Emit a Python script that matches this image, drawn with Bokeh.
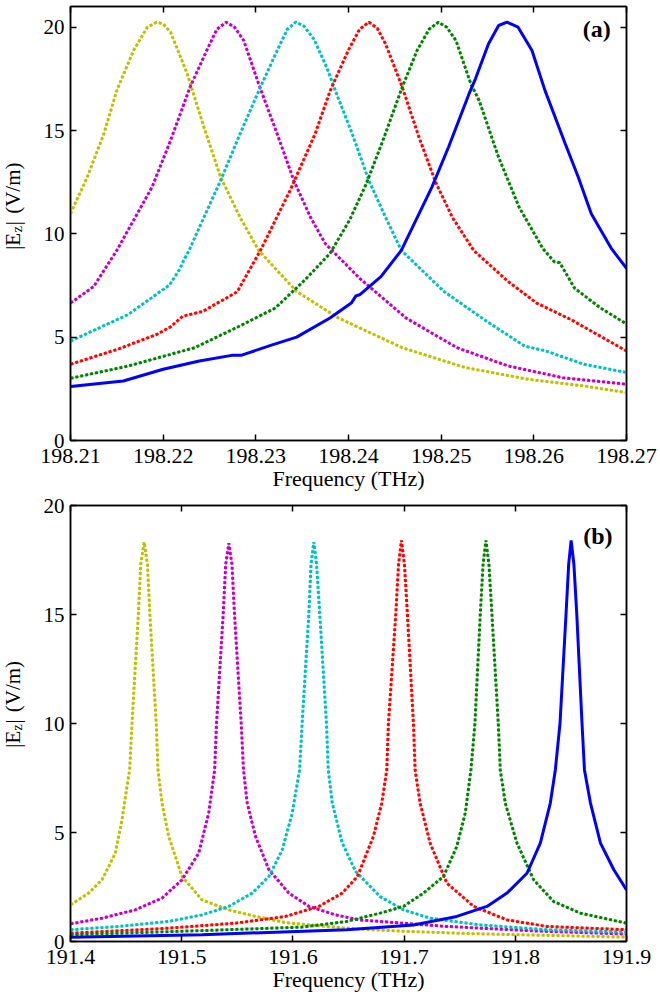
from math import pi

from bokeh.plotting import figure
from bokeh.layouts import column, row
from bokeh.models import (LinearAxis, FixedTicker, PrintfTickFormatter,
                          CustomJSTickFormatter, Label, Range1d)
from bokeh.core.properties import value
from bokeh.embed import file_html
from bokeh.resources import INLINE

# ---- panel (a): 198.21 - 198.27 THz ----
fa_yel = [198.2100, 198.2118, 198.2136, 198.2150, 198.2168, 198.2183, 198.2193, 198.2200, 198.2208, 198.2226,
          198.2244, 198.2262, 198.2283, 198.2303, 198.2344, 198.2389, 198.2458, 198.2526, 198.2594, 198.2654,
          198.2700]
ea_yel = [10.97, 12.74, 14.84, 16.94, 18.87, 20.00, 20.24, 20.15, 19.76, 17.74,
          15.16, 12.74, 10.80, 9.20, 7.21, 5.93, 4.49, 3.53, 2.96, 2.64,
          2.32]

fa_mag = [198.2100, 198.2125, 198.2150, 198.2168, 198.2188, 198.2208, 198.2229, 198.2247, 198.2258, 198.2268,
          198.2277, 198.2287, 198.2303, 198.2323, 198.2341, 198.2359, 198.2375, 198.2412, 198.2462, 198.2517,
          198.2572, 198.2631, 198.2700]
ea_mag = [6.65, 7.45, 9.20, 10.65, 12.26, 14.52, 17.10, 18.87, 19.90, 20.24,
          20.00, 19.35, 17.26, 14.84, 12.58, 10.80, 9.52, 7.85, 5.93, 4.49,
          3.61, 3.04, 2.72]

fa_cya = [198.2100, 198.2162, 198.2207, 198.2218, 198.2222, 198.2228, 198.2244, 198.2262, 198.2283, 198.2305,
          198.2323, 198.2334, 198.2343, 198.2352, 198.2363, 198.2377, 198.2386, 198.2404, 198.2422, 198.2440,
          198.2457, 198.2503, 198.2549, 198.2590, 198.2613, 198.2654, 198.2700]
ea_cya = [4.81, 6.09, 7.53, 8.30, 8.70, 9.20, 10.80, 12.58, 14.84, 17.10,
          18.87, 19.90, 20.24, 20.05, 19.40, 18.00, 16.90, 14.84, 12.58, 10.80,
          9.20, 7.21, 5.77, 4.57, 4.33, 3.69, 3.29]

fa_red = [198.2100, 198.2150, 198.2193, 198.2208, 198.2221, 198.2243, 198.2280, 198.2305, 198.2337, 198.2364,
          198.2380, 198.2400, 198.2412, 198.2422, 198.2431, 198.2440, 198.2458, 198.2476, 198.2494, 198.2512,
          198.2535, 198.2572, 198.2603, 198.2640, 198.2700]
ea_red = [3.69, 4.40, 5.13, 5.50, 6.01, 6.25, 7.20, 9.20, 12.10, 14.84,
          16.90, 18.90, 19.90, 20.24, 19.95, 19.19, 17.10, 14.68, 12.50, 10.80,
          9.20, 7.70, 6.65, 5.85, 4.33]

fa_grn = [198.2100, 198.2162, 198.2234, 198.2280, 198.2321, 198.2353, 198.2380, 198.2401, 198.2419, 198.2437,
          198.2458, 198.2474, 198.2487, 198.2497, 198.2506, 198.2516, 198.2532, 198.2541, 198.2562, 198.2584,
          198.2610, 198.2622, 198.2628, 198.2644, 198.2672, 198.2700]
ea_grn = [3.01, 3.60, 4.49, 5.48, 6.41, 7.77, 9.05, 10.65, 12.40, 14.50,
          17.10, 18.87, 19.90, 20.24, 20.00, 19.35, 17.26, 16.45, 13.70, 11.30,
          9.27, 8.65, 8.60, 7.37, 6.41, 5.64]

fa_blu = [198.2100, 198.2157, 198.2200, 198.2239, 198.2274, 198.2284, 198.2316, 198.2344, 198.2380, 198.2403,
          198.2408, 198.2412, 198.2435, 198.2457, 198.2490, 198.2508, 198.2530, 198.2537, 198.2551, 198.2562,
          198.2571, 198.2583, 198.2598, 198.2612, 198.2634, 198.2648, 198.2662, 198.2684, 198.2700]
ea_blu = [2.61, 2.88, 3.45, 3.85, 4.12, 4.12, 4.60, 5.00, 5.93, 6.65,
          7.00, 7.05, 7.93, 9.20, 12.26, 14.20, 16.77, 17.50, 19.19, 20.08,
          20.24, 20.00, 18.87, 16.94, 14.35, 12.74, 10.97, 9.27, 8.33]

# ---- panel (b): 191.4 - 191.9 THz ----
fb_yel = [191.4000, 191.4163, 191.4283, 191.4403, 191.4463, 191.4508, 191.4532, 191.4553, 191.4610, 191.4632,
          191.4662, 191.4692, 191.4714, 191.4771, 191.4787, 191.4823, 191.4883, 191.5003, 191.5183, 191.5423,
          191.5664, 191.5934, 191.6234, 191.6595, 191.7000, 191.7600, 191.8300, 191.9000]
eb_yel = [1.68, 2.22, 2.83, 4.05, 5.58, 7.11, 7.87, 10.00, 15.00, 17.30,
          18.32, 17.30, 15.00, 10.00, 7.87, 6.35, 4.82, 2.98, 1.91, 1.45,
          1.15, 0.87, 0.72, 0.57, 0.47, 0.36, 0.28, 0.20]

fb_mag = [191.4000, 191.4283, 191.4583, 191.4823, 191.5003, 191.5153, 191.5243, 191.5296, 191.5313, 191.5373,
          191.5396, 191.5424, 191.5452, 191.5475, 191.5535, 191.5556, 191.5589, 191.5664, 191.5784, 191.5964,
          191.6144, 191.6384, 191.6595, 191.7384, 191.8200, 191.9000]
eb_mag = [0.81, 1.07, 1.45, 1.99, 2.83, 4.05, 5.89, 7.87, 10.00, 15.00,
          17.30, 18.27, 17.30, 15.00, 10.00, 7.87, 6.35, 4.82, 3.29, 2.22,
          1.61, 1.22, 0.99, 0.69, 0.48, 0.34]

fb_cya = [191.4000, 191.4432, 191.4883, 191.5183, 191.5423, 191.5634, 191.5784, 191.5904, 191.5994, 191.6060,
          191.6083, 191.6143, 191.6163, 191.6188, 191.6213, 191.6242, 191.6302, 191.6318, 191.6354, 191.6444,
          191.6565, 191.6784, 191.6994, 191.7234, 191.7685, 191.8285, 191.9000]
eb_cya = [0.54, 0.69, 0.92, 1.22, 1.61, 2.22, 2.98, 4.20, 5.89, 7.87,
          10.00, 15.00, 17.30, 18.32, 17.30, 15.00, 10.00, 7.87, 6.35, 4.51,
          3.21, 2.06, 1.45, 1.07, 0.76, 0.54, 0.43]

fb_red = [191.4000, 191.4883, 191.5483, 191.5934, 191.6234, 191.6444, 191.6580, 191.6724, 191.6799, 191.6844,
          191.6859, 191.6925, 191.6950, 191.6976, 191.7003, 191.7030, 191.7084, 191.7099, 191.7144, 191.7234,
          191.7384, 191.7625, 191.7925, 191.8285, 191.9000]
eb_red = [0.38, 0.61, 0.84, 1.15, 1.61, 2.22, 2.98, 4.82, 6.35, 7.87,
          10.00, 15.00, 17.30, 18.40, 17.30, 15.00, 10.00, 7.87, 6.35, 4.51,
          2.68, 1.61, 0.99, 0.69, 0.54]

fb_grn = [191.4000, 191.5183, 191.6084, 191.6483, 191.6784, 191.6994, 191.7174, 191.7354, 191.7474, 191.7550,
          191.7601, 191.7637, 191.7685, 191.7710, 191.7736, 191.7763, 191.7790, 191.7847, 191.7865, 191.7910,
          191.8015, 191.8165, 191.8345, 191.8586, 191.9000]
eb_grn = [0.31, 0.50, 0.66, 0.92, 1.30, 1.61, 2.22, 2.98, 4.36, 5.89,
          7.87, 10.00, 15.00, 17.30, 18.40, 17.30, 15.00, 10.00, 7.87, 6.35,
          4.51, 2.83, 1.83, 1.30, 0.84]

fb_blu = [191.4000, 191.5183, 191.6483, 191.7084, 191.7474, 191.7745, 191.7925, 191.8105, 191.8225, 191.8315,
          191.8360, 191.8402, 191.8456, 191.8480, 191.8502, 191.8527, 191.8553, 191.8600, 191.8622, 191.8676,
          191.8766, 191.8886, 191.9000]
eb_blu = [0.20, 0.31, 0.54, 0.76, 1.15, 1.61, 2.22, 3.13, 4.51, 6.35,
          7.87, 10.00, 15.00, 17.30, 18.40, 17.30, 15.00, 10.00, 7.87, 6.35,
          4.51, 3.29, 2.37]

xticks_a = [198.21, 198.22, 198.23, 198.24, 198.25, 198.26, 198.27]
xticks_b = [191.4, 191.5, 191.6, 191.7, 191.8, 191.9]
yticks = [0, 5, 10, 15, 20]

YEL, MAG, CYA, RED, GRN, BLU = "#bfbf00", "#bf00bf", "#00bfbf", "#ff0000", "#007f00", "#0000ff"
FONT = "Liberation Serif"
LAB_W = 36  # width of the strip that carries the y label


def style_axis(ax):
    ax.major_tick_in = 6
    ax.major_tick_out = 0
    ax.minor_tick_in = 0
    ax.minor_tick_out = 0
    ax.axis_line_width = 1.5
    ax.axis_line_color = "black"
    ax.major_tick_line_width = 1.5
    ax.major_tick_line_color = "black"
    ax.major_label_text_font = FONT
    ax.major_label_text_font_size = "22px"
    ax.major_label_text_color = "black"
    ax.axis_label_text_font = FONT
    ax.axis_label_text_font_size = "22px"
    ax.axis_label_text_font_style = "normal"
    ax.axis_label_text_color = "black"


def make_panel(xr, yr, xticks, fmt, frame_h, top, bottom, series, tag, tag_x, tag_y, ylab_y):
    p = figure(x_range=Range1d(*xr), y_range=Range1d(*yr),
               frame_width=556, frame_height=frame_h,
               min_border_left=70 - LAB_W, min_border_right=34,
               min_border_top=top, min_border_bottom=bottom,
               toolbar_location=None, output_backend="svg",
               x_axis_label="Frequency (THz)")
    p.grid.visible = False
    p.outline_line_color = "black"
    p.outline_line_width = 1.5

    p.xaxis.ticker = FixedTicker(ticks=xticks)
    p.xaxis.formatter = PrintfTickFormatter(format=fmt)
    p.yaxis.ticker = FixedTicker(ticks=yticks)
    p.yaxis.formatter = PrintfTickFormatter(format="%d")
    for ax in p.axis:
        style_axis(ax)
    p.yaxis.major_label_text_font_size = "21px"
    p.xaxis.major_label_standoff = 8
    p.xaxis.axis_label_standoff = 0
    p.yaxis.major_label_standoff = 6

    # box-style ticks on top and right
    for side, ticks in (("above", xticks), ("right", yticks)):
        ax = LinearAxis(ticker=FixedTicker(ticks=ticks),
                        formatter=CustomJSTickFormatter(code="return ''"))
        style_axis(ax)
        ax.major_label_text_font_size = "0px"
        ax.major_label_standoff = 0
        p.add_layout(ax, side)

    for fx, ey, col, dotted in series:
        if dotted:
            p.line(fx, ey, line_color=col, line_width=1, line_alpha=0.35)
            p.line(fx, ey, line_color=col, line_width=3, line_dash="3 2")
        else:
            p.line(fx, ey, line_color=col, line_width=3)

    p.add_layout(Label(x=tag_x, y=tag_y, text=tag, text_font=FONT, text_font_size="24px",
                       text_font_style="bold", text_color="black",
                       text_align="right", text_baseline="alphabetic"))

    # narrow strip on the left holding |E_z| (V/m), built from pieces for the subscript
    total_h = top + frame_h + bottom
    s = figure(width=LAB_W, height=total_h, x_range=Range1d(0, LAB_W), y_range=Range1d(0, total_h),
               min_border=0, toolbar_location=None, output_backend="svg",
               x_axis_type=None, y_axis_type=None)
    s.grid.visible = False
    s.outline_line_color = None
    common = dict(angle=pi / 2, text_font=value(FONT), text_color="black",
                  text_align="left", text_baseline="alphabetic")
    s.text(x=[12], y=[ylab_y], text=["|E"], text_font_size="21px", **common)
    s.text(x=[17], y=[ylab_y + 20], text=["z"], text_font_size="14px", **common)
    s.text(x=[12], y=[ylab_y + 28], text=["|"], text_font_size="21px", **common)
    s.text(x=[12], y=[ylab_y + 41], text=["(V/m)"], text_font_size="21px", **common)
    return row(s, p, spacing=0)


series_a = [(fa_yel, ea_yel, YEL, True), (fa_mag, ea_mag, MAG, True), (fa_cya, ea_cya, CYA, True),
            (fa_red, ea_red, RED, True), (fa_grn, ea_grn, GRN, True), (fa_blu, ea_blu, BLU, False)]
series_b = [(fb_yel, eb_yel, YEL, True), (fb_mag, eb_mag, MAG, True), (fb_cya, eb_cya, CYA, True),
            (fb_red, eb_red, RED, True), (fb_grn, eb_grn, GRN, True), (fb_blu, eb_blu, BLU, False)]

# panel (a): 6 + 434 + 54 = 494 px tall; label starts 277 px from the page top
pa = make_panel((198.21, 198.27), (0, 21.0), xticks_a, "%.2f", 434, 6, 54, series_a,
                "(a)", 198.2683, 19.9, 494 - 277)
# panel (b): 11 + 436 + 55 = 502 px tall; label starts 773 px from the page top
pb = make_panel((191.4, 191.9), (0, 20), xticks_b, "%.1f", 436, 11, 55, series_b,
                "(b)", 191.8874, 18.6, 502 - (773 - 494))

layout = column(pa, pb, spacing=0)
open("out.html", "w").write(file_html(layout, INLINE))
